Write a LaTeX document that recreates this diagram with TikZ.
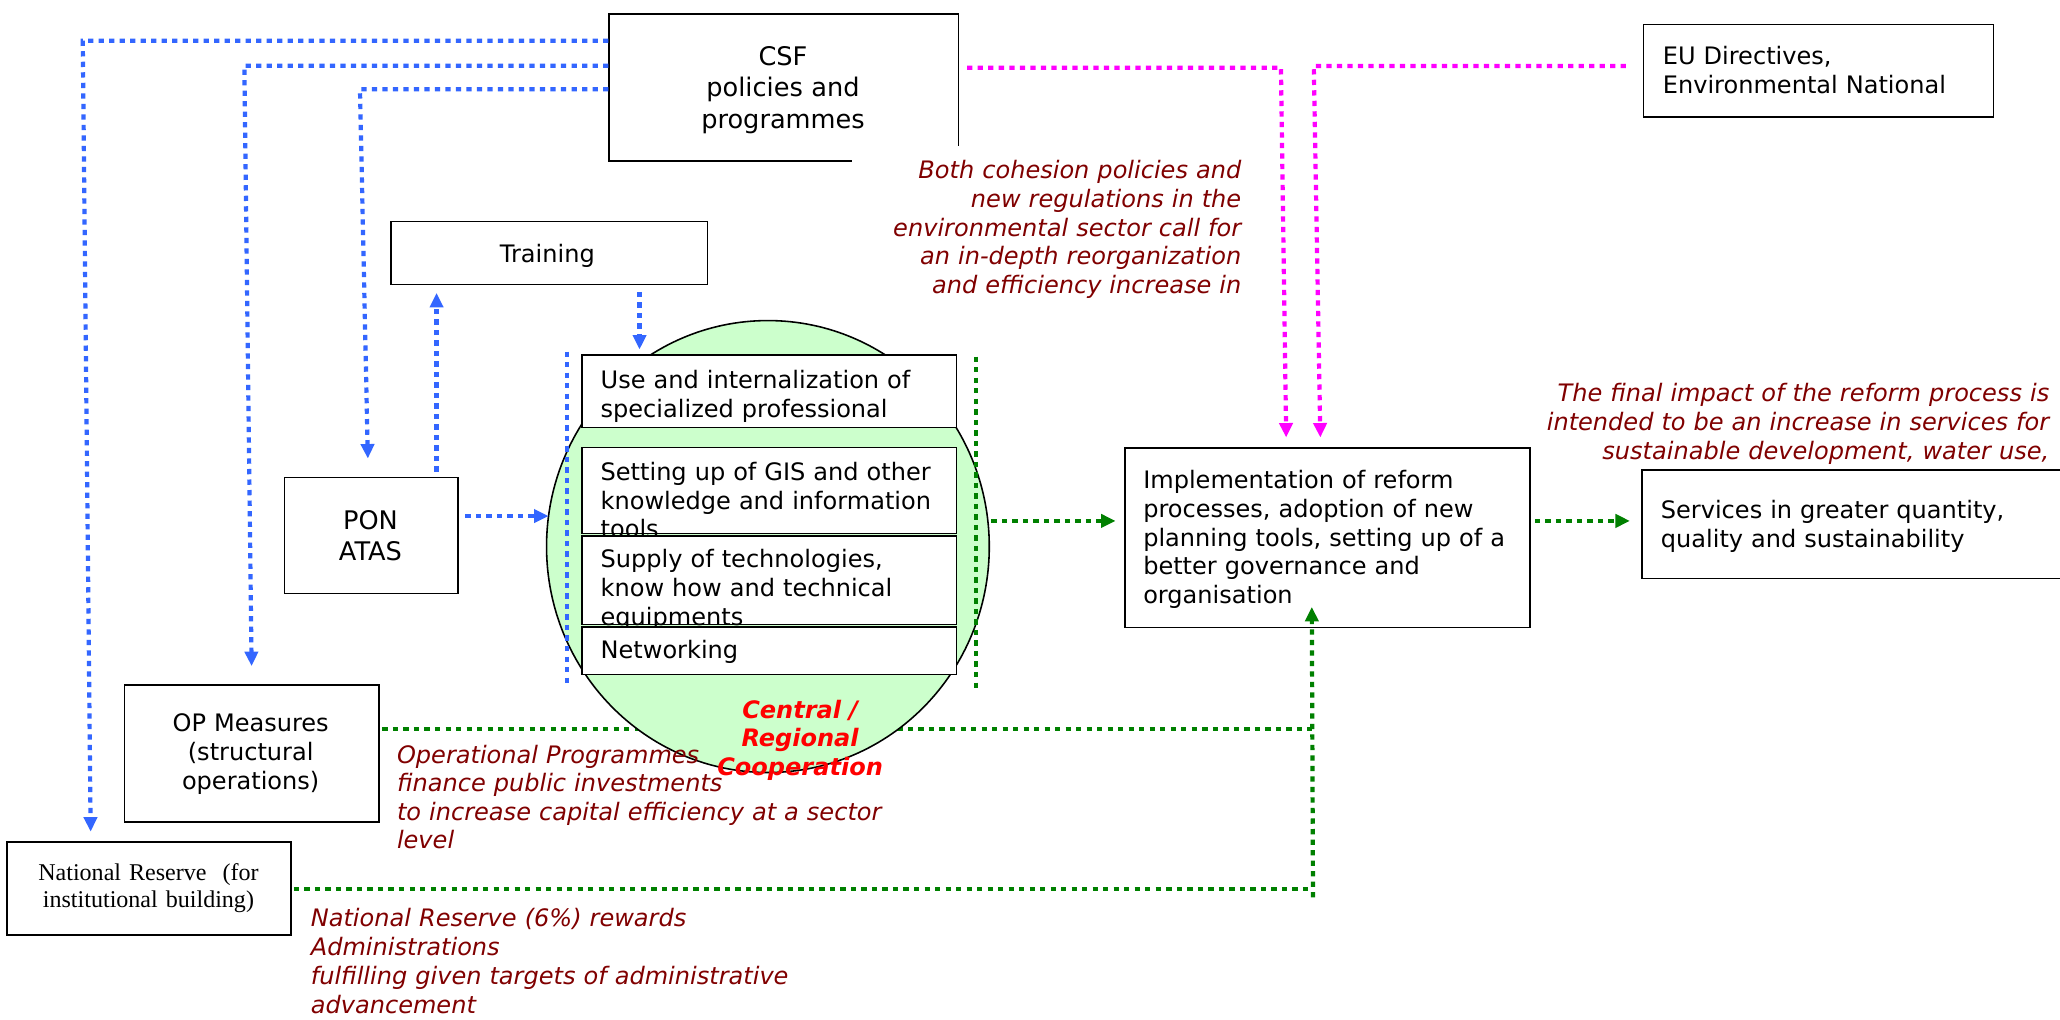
\documentclass[tikz,border=0pt]{standalone}
\usepackage{fontspec}
\setmainfont{DejaVu Sans}
\newfontfamily\nrserif{Liberation Serif}
\usetikzlibrary{arrows.meta,shapes.geometric}

\definecolor{linkblue}{HTML}{3366FF}
\definecolor{linkmagenta}{HTML}{FF00FF}
\definecolor{linkgreen}{HTML}{008000}
\definecolor{notered}{HTML}{800000}
\definecolor{cooptext}{HTML}{FF0000}
\definecolor{coopfill}{HTML}{CCFFCC}

\newcommand\fbody{\fontsize{18.3pt}{22pt}\selectfont}
\newcommand\fbig{\fontsize{19.5pt}{24pt}\selectfont}
\newcommand\fnote{\fontsize{18.3pt}{22pt}\selectfont\itshape}
\newcommand\fnoteb{\fontsize{18.3pt}{21.6pt}\selectfont\itshape}
\newcommand\fcoop{\fontsize{18.3pt}{21.6pt}\selectfont\bfseries\itshape}
\newcommand\fnr{\nrserif\fontsize{18.3pt}{21pt}\selectfont}

\tikzset{
  frame/.style={draw=black, line width=1.2pt, fill=white, inner sep=0pt, anchor=north west},
  txt/.style={inner sep=0pt, text width=#1, font=\fbody, align=left, anchor=base west},
  txt/.default=420pt,
  link/.style={line width=3.2pt, dash pattern=on 4pt off 4pt},
  bluelink/.style={link, draw=linkblue},
  greenlink/.style={link, draw=linkgreen},
  maglink/.style={link, draw=linkmagenta},
  head/.style={-{Triangle[length=11pt,width=10pt]}},
  note/.style={inner sep=0pt, text width=#1, font=\fnote, text=notered},
  note/.default=420pt
}

\begin{document}
\begin{tikzpicture}[x=1pt, y=-1pt]
  \clip (0,0) rectangle (1568,776);

  % feedback lines running behind the cooperation area
  \coordinate (gup) at (999,554.9);
  \coordinate (glow) at (999.2,676.7);
  \coordinate (gbot) at (999.4,683);
  \coordinate (gtip) at (998.5,462);

  \node[frame, minimum width=193.7pt, minimum height=104.4pt] (op) at (94.2,520.6) {};
  \node[frame, minimum width=216.2pt, minimum height=70.8pt] (nrs) at (4.8,640.4) {};
  \draw[greenlink, shorten <=2pt] (op.east |- gup) -- (gup);
  \draw[greenlink, shorten <=1.5pt] (nrs.east |- glow) -- (glow);

  % central / regional cooperation area
  \node[ellipse, draw=black, line width=1.2pt, fill=coopfill, inner sep=0pt,
        minimum width=337pt, minimum height=344pt] (coop) at (584.5,416) {};

  % main boxes
  \node[frame, minimum width=266pt, minimum height=112pt] (csf) at (463,10) {};
  \node[frame, minimum width=241pt, minimum height=48pt] (training) at (297,168) {};
  \node[frame, minimum width=132pt, minimum height=88pt] (pon) at (216,363) {};
  \node[frame, minimum width=308.4pt, minimum height=136.5pt] (impl) at (855.6,340.5) {};
  \node[frame, minimum width=340pt, minimum height=82.7pt] (serv) at (1249.4,357) {};
  \node[frame, minimum width=266.2pt, minimum height=70.6pt] (eu) at (1250.5,18) {};

  % activity boxes stacked inside the cooperation area
  \node[frame, minimum width=285.1pt, minimum height=55.5pt] (useb) at (442.5,269.4) {};
  \node[txt] (usetxt) at (457,295.6) {Use and internalization of\\specialized professional};
  \node[frame, minimum width=285pt, minimum height=65.5pt] (gisb) at (442.5,340) {};
  \node[txt] (gistxt) at (457,365.5) {Setting up of GIS and other\\knowledge and information\\tools};
  \node[frame, minimum width=285pt, minimum height=67.2pt] (supb) at (442.5,407.5) {};
  \node[txt] (suptxt) at (457,431.8) {Supply of technologies,\\know how and technical\\equipments};
  \node[frame, minimum width=285.1pt, minimum height=36.1pt] (netb) at (442.5,476.7) {};
  \node[txt] (nettxt) at (457,501) {Networking};

  % box texts
  \node[txt=220pt, font=\fbig, align=center, anchor=base] (csftxt) at (596,49.5) {CSF\\policies and\\programmes};
  \node[txt=220pt, align=center, anchor=base] (traintxt) at (416.6,200) {Training};
  \node[txt=130pt, font=\fbig, align=center, anchor=base] (pontxt) at (282,402.9) {PON\\ATAS};
  \node[txt=190pt, align=center, anchor=base] (optxt) at (190.8,557) {OP Measures\\(structural\\operations)};
  \node[txt=215pt, font=\fnr, align=center, anchor=base] (nrstxt) at (113,670) {National Reserve\ \ (for\\institutional building)};
  \node[txt] (impltxt) at (870,371.6) {Implementation of reform\\processes, adoption of new\\planning tools, setting up of a\\better governance and\\organisation};
  \node[txt] (servtxt) at (1264,394.5) {Services in greater quantity,\\quality and sustainability};
  \node[txt] (eutxt) at (1265.5,49) {EU Directives,\\Environmental National};

  % blue links from the CSF and the technical assistance
  \coordinate (bA) at (63,31);   \coordinate (bAend) at (69,633);
  \coordinate (bB) at (186,50);  \coordinate (bBend) at (191.5,507);
  \coordinate (bC) at (274,68);  \coordinate (bCend) at (280,349);
  \draw[bluelink, head] (csf.west |- bA) -- (bA) -- (bAend);
  \draw[bluelink, head] (csf.west |- bB) -- (bB) -- (bBend);
  \draw[bluelink, head] (csf.west |- bC) -- (bC) -- (bCend);

  \coordinate (upx) at (332.3,223);
  \draw[bluelink, head, shorten <=4pt] (pon.north -| upx) -- (upx);
  \coordinate (dnx) at (486.8,266);
  \draw[bluelink, head, shorten <=5pt] (training.south -| dnx) -- (dnx);
  \coordinate (rtx) at (417.5,392.8);
  \draw[bluelink, head, shorten <=5pt] (pon.east |- rtx) -- (rtx);

  \coordinate (bv1) at (431.6,267.7); \coordinate (bv2) at (431.6,522.7);
  \draw[bluelink] (bv1) -- (bv2);

  % green links towards the reform process and its outcome
  \coordinate (gv1) at (743,271.5); \coordinate (gv2) at (743,526.5);
  \draw[greenlink] (gv1) -- (gv2);
  \coordinate (gy) at (800,396.5);
  \draw[greenlink, head, shorten <=1pt, shorten >=6.5pt] (coop.east |- gy) -- (impl.west |- gy);
  \draw[greenlink, head, shorten <=3pt, shorten >=8.8pt] (impl.east |- gy) -- (serv.west |- gy);
  \draw[greenlink, head] (gbot) -- (gtip);

  % magenta links from policies and directives
  \coordinate (m1) at (975,51.5); \coordinate (m1e) at (979,333);
  \coordinate (m2) at (1000,50.2); \coordinate (m2e) at (1005,333);
  \draw[maglink, head, shorten <=6pt] (csf.east |- m1) -- (m1) -- (m1e);
  \draw[maglink, head, shorten <=13pt] (eu.west |- m2) -- (m2) -- (m2e);

  % comments
  \node[fill=white, inner sep=0pt, minimum width=304pt, minimum height=125pt, anchor=north west] (cohpad) at (648,111) {};
  \node[note=300pt, align=right, anchor=base east] (cohtxt) at (945,135.7)
    {Both cohesion policies and\\new regulations in the\\environmental sector call for\\an in-depth reorganization\\and efficiency increase in};
  \node[note=400pt, align=right, anchor=base east] (impacttxt) at (1560,305.7)
    {The final impact of the reform process is\\intended to be an increase in services for\\sustainable development, water use,};
  \node[note, font=\fnoteb, align=left, anchor=base west] (optnote) at (302,581)
    {Operational Programmes\\finance public investments\\to increase capital efficiency at a sector\\level};
  \node[note, align=left, anchor=base west] (nrsnote) at (236.4,705.3)
    {National Reserve (6\%) rewards\\Administrations\\fulfilling given targets of administrative\\advancement};
  \node[inner sep=0pt, text width=200pt, font=\fcoop, text=cooptext, align=center, anchor=base] (cooptxt) at (609,546.8)
    {Central /\\Regional\\Cooperation};
\end{tikzpicture}
\end{document}
